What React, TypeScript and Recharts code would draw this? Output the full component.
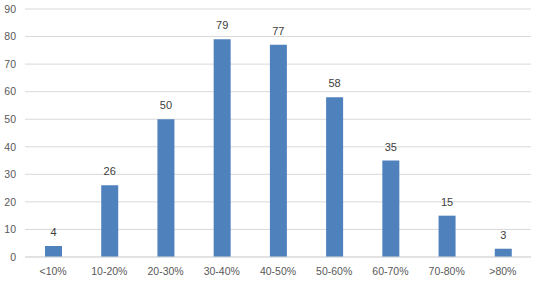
import React from 'react';
import { BarChart, Bar, XAxis, YAxis, CartesianGrid, LabelList } from 'recharts';

const categories = ['<10%', '10-20%', '20-30%', '30-40%', '40-50%', '50-60%', '60-70%', '70-80%', '>80%'];
const values = [4, 26, 50, 79, 77, 58, 35, 15, 3];
const yTicks = [0, 10, 20, 30, 40, 50, 60, 70, 80, 90];

const data = categories.map((c, i) => ({ name: c, value: values[i] }));

const font = '"Liberation Sans", Arial, sans-serif';

export default function App() {
  return (
    <div style={{ position: 'absolute', left: 0, top: 0, width: 536, height: 286, background: '#fff' }}>
      <BarChart width={536} height={286} data={data} margin={{ top: 9, right: 5, bottom: 0, left: 0 }}>
        <CartesianGrid vertical={false} stroke="#d9d9d9" />
        <XAxis
          dataKey="name"
          axisLine={{ stroke: '#d9d9d9' }}
          tickLine={false}
          height={29}
          tickSize={0}
          tickMargin={11}
          tick={{ fill: '#595959', fontSize: 10.5, fontFamily: font }}
          interval={0}
        />
        <YAxis
          domain={[0, 90]}
          ticks={yTicks}
          width={25}
          axisLine={false}
          tickLine={false}
          tickSize={0}
          tickMargin={9}
          tick={{ fill: '#595959', fontSize: 10.5, fontFamily: font }}
        />
        <Bar dataKey="value" fill="#4F81BD" barSize={17} isAnimationActive={false}>
          <LabelList dataKey="value" position="top" offset={10} fill="#404040" fontSize={11} fontFamily={font} />
        </Bar>
      </BarChart>
    </div>
  );
}
